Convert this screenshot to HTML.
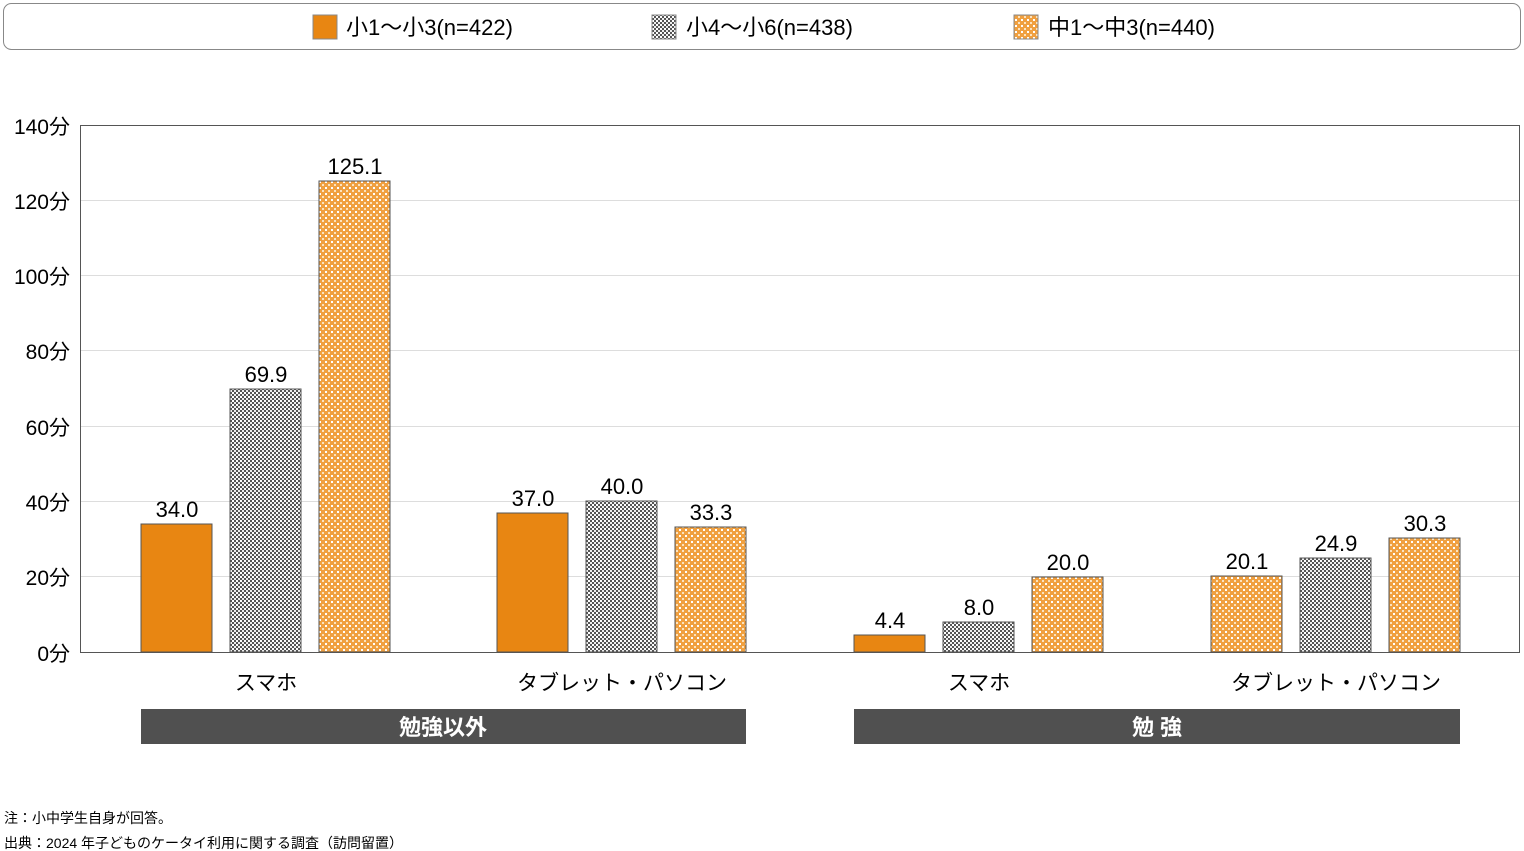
<!DOCTYPE html>
<html><head><meta charset="utf-8"><style>
body{margin:0;background:#fff;}
svg{display:block;font-family:"Liberation Sans","Noto Sans CJK JP",sans-serif;}
</style></head><body>
<svg width="1524" height="851" viewBox="0 0 1524 851" xmlns="http://www.w3.org/2000/svg">
<defs>
<pattern id="chk" width="4" height="4" patternUnits="userSpaceOnUse">
<rect width="4" height="4" fill="#555"/><rect x="0" y="0" width="2" height="2" fill="#fff"/><rect x="2" y="2" width="2" height="2" fill="#eee"/>
</pattern>
<pattern id="dot" width="6" height="6" patternUnits="userSpaceOnUse">
<rect width="6" height="6" fill="#f0a040"/><rect x="1" y="1" width="2" height="2" fill="#fff"/><rect x="4" y="4" width="2" height="2" fill="#fbe3c0"/>
</pattern>
</defs>
<rect x="3.5" y="3.5" width="1517" height="46" rx="8" fill="#fff" stroke="#888"/>
<rect x="313" y="15" width="24" height="24" fill="#e88612" stroke="#888"/>
<text x="346" y="35" font-size="22">小1～小3(n=422)</text>
<rect x="652" y="15" width="24" height="24" fill="url(#chk)" stroke="#888"/>
<text x="686" y="35" font-size="22">小4～小6(n=438)</text>
<rect x="1014" y="15" width="24" height="24" fill="url(#dot)" stroke="#888"/>
<text x="1048" y="35" font-size="22">中1～中3(n=440)</text>
<g stroke="#ddd" stroke-width="1">
<line x1="80" x2="1520" y1="200.5" y2="200.5"/><line x1="80" x2="1520" y1="275.5" y2="275.5"/>
<line x1="80" x2="1520" y1="350.5" y2="350.5"/><line x1="80" x2="1520" y1="426.5" y2="426.5"/>
<line x1="80" x2="1520" y1="501.5" y2="501.5"/><line x1="80" x2="1520" y1="576.5" y2="576.5"/>
</g>
<rect x="80.5" y="125.5" width="1439" height="527" fill="none" stroke="#555"/>
<g font-size="21" text-anchor="end">
<text x="70" y="134">140分</text><text x="70" y="209">120分</text><text x="70" y="284">100分</text>
<text x="70" y="359">80分</text><text x="70" y="435">60分</text><text x="70" y="510">40分</text>
<text x="70" y="585">20分</text><text x="70" y="661">0分</text>
</g>
<g stroke="#555" stroke-width="1">
<rect x="141" y="524" width="71" height="128" fill="#e88612"/>
<rect x="230" y="389" width="71" height="263" fill="url(#chk)"/>
<rect x="319" y="181" width="71" height="471" fill="url(#dot)"/>
<rect x="497" y="513" width="71" height="139" fill="#e88612"/>
<rect x="586" y="501" width="71" height="151" fill="url(#chk)"/>
<rect x="675" y="527" width="71" height="125" fill="url(#dot)"/>
<rect x="854" y="635" width="71" height="17" fill="#e88612"/>
<rect x="943" y="622" width="71" height="30" fill="url(#chk)"/>
<rect x="1032" y="577" width="71" height="75" fill="url(#dot)"/>
<rect x="1211" y="576" width="71" height="76" fill="url(#dot)"/>
<rect x="1300" y="558" width="71" height="94" fill="url(#chk)"/>
<rect x="1389" y="538" width="71" height="114" fill="url(#dot)"/>
</g>
<g font-size="22" text-anchor="middle">
<text x="177" y="517">34.0</text><text x="266" y="382">69.9</text><text x="355" y="174">125.1</text>
<text x="533" y="506">37.0</text><text x="622" y="494">40.0</text><text x="711" y="520">33.3</text>
<text x="890" y="628">4.4</text><text x="979" y="615">8.0</text><text x="1068" y="570">20.0</text>
<text x="1247" y="569">20.1</text><text x="1336" y="551">24.9</text><text x="1425" y="531">30.3</text>
<text x="266" y="690" font-size="21">スマホ</text><text x="622" y="690" font-size="21">タブレット・パソコン</text>
<text x="979" y="690" font-size="21">スマホ</text><text x="1336" y="690" font-size="21">タブレット・パソコン</text>
</g>
<rect x="141" y="709" width="605" height="35" fill="#505050"/>
<rect x="854" y="709" width="606" height="35" fill="#505050"/>
<text x="443" y="735" font-size="22" fill="#fff" text-anchor="middle" font-weight="bold">勉強以外</text>
<text x="1157" y="735" font-size="22" fill="#fff" text-anchor="middle" font-weight="bold">勉 強</text>
<text x="4" y="823" font-size="14">注：小中学生自身が回答。</text>
<text x="4" y="848" font-size="14">出典：2024 年子どものケータイ利用に関する調査（訪問留置）</text>
</svg>
</body></html>
